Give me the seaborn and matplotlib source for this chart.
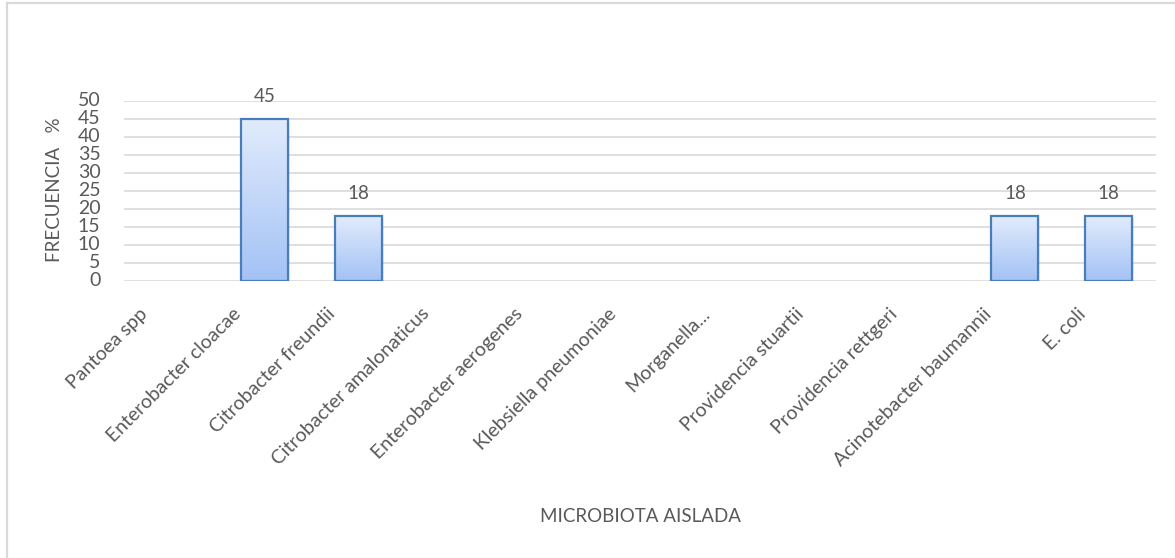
import numpy as np
import pandas as pd
import matplotlib
matplotlib.use("Agg")
import matplotlib.pyplot as plt
from matplotlib.patches import Rectangle
from matplotlib.transforms import ScaledTranslation
import seaborn as sns

categories = ["Pantoea spp", "Enterobacter cloacae", "Citrobacter freundii",
              "Citrobacter amalonaticus", "Enterobacter aerogenes",
              "Klebsiella pneumoniae", "Morganella...", "Providencia stuartii",
              "Providencia rettgeri", "Acinotebacter baumannii", "E. coli"]
frecuencia = [0, 45, 18, 0, 0, 0, 0, 0, 0, 18, 18]
y_ticks = [0, 5, 10, 15, 20, 25, 30, 35, 40, 45, 50]

df = pd.DataFrame({"microbiota": categories, "frecuencia": frecuencia})

sns.set_theme(style="white")
plt.rcParams["font.family"] = ["Lato", "DejaVu Sans"]

text_color = "#595959"
grid_color = "#d9d9d9"
edge_color = "#4a7ebb"

W, H = 1175, 558
fig = plt.figure(figsize=(W / 100, H / 100), dpi=100)
ax = fig.add_axes([124 / W, 1 - 281 / H, (1155.6 - 124) / W, 180 / H])

sns.barplot(data=df, x="microbiota", y="frecuencia", order=categories,
            width=0.5, color="#c6d9f1", linewidth=0, ax=ax, zorder=3)

ax.set_ylim(0, 50)
ax.set_xlim(-0.5, len(categories) - 0.5)
ax.set_yticks(y_ticks)
ax.yaxis.grid(True, color=grid_color, linewidth=1.2, zorder=0)
ax.set_axisbelow(True)
for s in ax.spines.values():
    s.set_visible(False)

# vertical gradient fill, outline and soft shadow for each bar
grad = np.linspace(0, 1, 256).reshape(-1, 1)
cmap = matplotlib.colors.LinearSegmentedColormap.from_list(
    "barfill", ["#a3c2f5", "#e1ebfc"])
for p in list(ax.patches):
    h = p.get_height()
    if h <= 0:
        continue
    x0 = p.get_x()
    w = p.get_width()
    im = ax.imshow(grad, extent=(x0, x0 + w, 0, h), origin="lower",
                   cmap=cmap, aspect="auto", zorder=3.5,
                   interpolation="bilinear")
    im.set_clip_path(p)
    ax.add_patch(Rectangle((x0 + 0.02, -0.5), w, h, facecolor="#000000",
                           alpha=0.07, edgecolor="none", zorder=2.5))
    ax.add_patch(Rectangle((x0, 0), w, h, facecolor="none",
                           edgecolor=edge_color, linewidth=1.6, zorder=4))
ax.set_xlim(-0.5, len(categories) - 0.5)
ax.set_ylim(0, 50)

# value labels above the non-zero bars
for i, v in enumerate(frecuencia):
    if v > 0:
        ax.annotate(f"{v}", (i, v), xytext=(0, 10), textcoords="offset points",
                    ha="center", va="bottom", fontsize=13.5, color=text_color)

ax.tick_params(axis="y", length=0, pad=17, labelsize=14, labelcolor=text_color)
ax.tick_params(axis="x", length=0, pad=0, labelsize=14, labelcolor=text_color)
ax.set_xticks(range(len(categories)))
ax.set_xticklabels(categories, rotation=45, ha="right", va="center",
                   rotation_mode="anchor")
shift = ScaledTranslation(-26 / 100, -30 / 100, fig.dpi_scale_trans)
for lbl in ax.get_xticklabels():
    lbl.set_transform(lbl.get_transform() + shift)
for lbl in ax.get_yticklabels():
    lbl.set_verticalalignment("center")

ax.set_xlabel("")
ax.set_ylabel("")
fig.text(640 / W, 1 - 517 / H, "MICROBIOTA AISLADA", ha="center", va="center",
         fontsize=13.5, color=text_color)
fig.text(55 / W, 1 - 190 / H, "FRECUENCIA   %", rotation=90,
         ha="center", va="center", fontsize=13.5, color=text_color)

# outer chart frame (only its top and left edges fall inside the canvas)
fig.patches.append(Rectangle((6.5 / W, -0.05), 1.2, 1 - 2.5 / H + 0.05,
                             transform=fig.transFigure, fill=False,
                             edgecolor="#d9d9d9", linewidth=1.6))

fig.savefig("out.png", dpi=100)
